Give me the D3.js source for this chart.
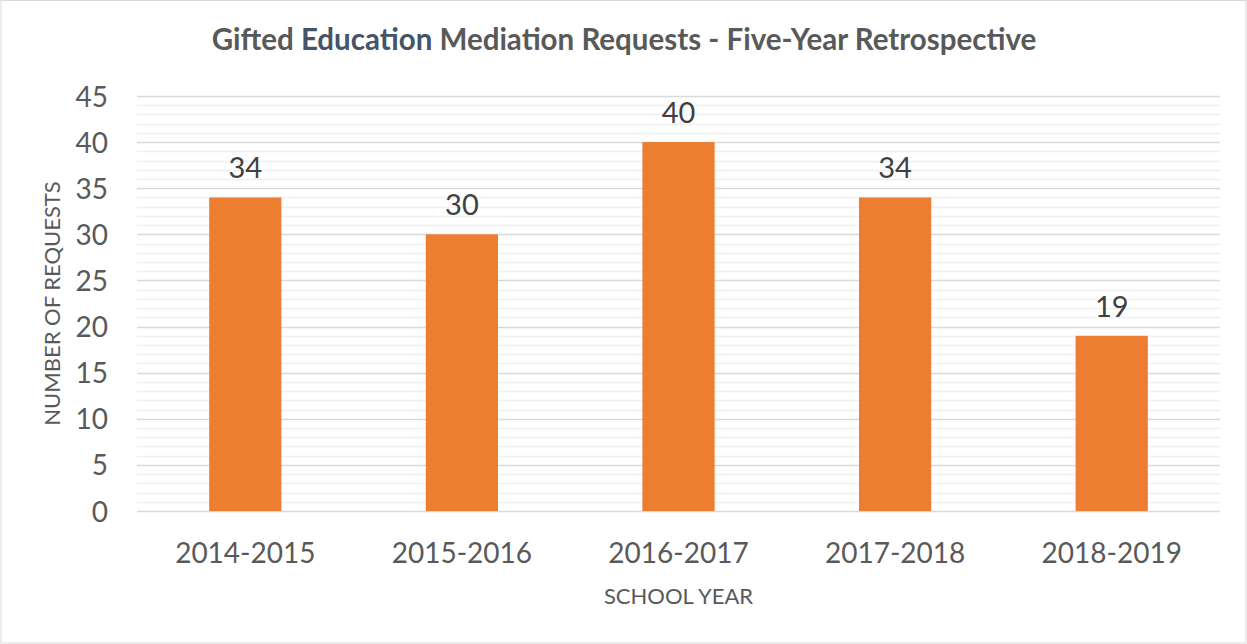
<!DOCTYPE html>
<html>
<head>
<meta charset="utf-8">
<script src="https://cdn.jsdelivr.net/npm/d3@7"></script>
<style>
  body { margin: 0; background: #fff; }
  text { font-family: Lato, "Open Sans", sans-serif; }
</style>
</head>
<body>
<script>
// chart values
var years = ["2014-2015", "2015-2016", "2016-2017", "2017-2018", "2018-2019"];
var requests = [34, 30, 40, 34, 19];
var yTicks = [0, 5, 10, 15, 20, 25, 30, 35, 40, 45];

var W = 1247, H = 644;
var m = {left: 137, right: 27, top: 96, bottom: 133};

var svg = d3.select("body").append("svg")
    .attr("width", W)
    .attr("height", H);

svg.append("rect")
    .attr("x", 1).attr("y", 0.5)
    .attr("width", W - 2).attr("height", H - 1.5)
    .attr("fill", "#fff")
    .attr("stroke", "#d9d9d9");

var x = d3.scaleBand()
    .domain(years)
    .range([m.left, W - m.right])
    .paddingInner(2 / 3)
    .paddingOuter(1 / 3);

var y = d3.scaleLinear()
    .domain([0, 45])
    .range([H - m.bottom, m.top]);

// minor gridlines (every 1)
svg.append("g").selectAll("line")
    .data(d3.range(0, 46).filter(function(v){ return v % 5 != 0; }))
    .enter().append("line")
    .attr("x1", m.left).attr("x2", W - m.right)
    .attr("y1", function(d){ return Math.round(y(d)) + 0.5; })
    .attr("y2", function(d){ return Math.round(y(d)) + 0.5; })
    .attr("stroke", "#f0f0f0")
    .attr("stroke-width", 1.5);

// major gridlines
svg.append("g").selectAll("line")
    .data(yTicks)
    .enter().append("line")
    .attr("x1", m.left).attr("x2", W - m.right)
    .attr("y1", function(d){ return Math.round(y(d)) + 0.5; })
    .attr("y2", function(d){ return Math.round(y(d)) + 0.5; })
    .attr("stroke", "#d9d9d9")
    .attr("stroke-width", 1.5);

// y axis labels
var yAxis = svg.append("g")
    .attr("transform", "translate(" + (m.left - 29) + ",0)")
    .call(d3.axisLeft(y).tickValues(yTicks).tickSize(0).tickPadding(0));
yAxis.select(".domain").remove();
yAxis.selectAll("text")
    .attr("fill", "#595959")
    .attr("font-size", 28)
    .attr("dy", "0.36em");

// x axis labels
var xAxis = svg.append("g")
    .attr("transform", "translate(0," + (H - m.bottom) + ")")
    .call(d3.axisBottom(x).tickSize(0).tickPadding(32));
xAxis.select(".domain").remove();
xAxis.selectAll("text")
    .attr("fill", "#595959")
    .attr("font-size", 28);

// bars
svg.append("g").selectAll("rect")
    .data(requests)
    .enter().append("rect")
    .attr("x", function(d, i){ return x(years[i]); })
    .attr("y", function(d){ return y(d); })
    .attr("width", x.bandwidth())
    .attr("height", function(d){ return y(0) - y(d); })
    .attr("fill", "#ed7d31");

// value labels
svg.append("g").selectAll("text")
    .data(requests)
    .enter().append("text")
    .attr("x", function(d, i){ return x(years[i]) + x.bandwidth() / 2; })
    .attr("y", function(d){ return y(d) - 19; })
    .attr("text-anchor", "middle")
    .attr("fill", "#404040")
    .attr("font-size", 29)
    .text(function(d){ return d; });

// title
var title = svg.append("text")
    .attr("x", 624).attr("y", 50)
    .attr("text-anchor", "middle")
    .attr("font-size", 29.5)
    .attr("font-weight", "bold")
    .attr("fill", "#595959");
title.append("tspan").text("Gifted ");
title.append("tspan").attr("fill", "#44546a").text("Education");
title.append("tspan").text(" Mediation Requests - Five-Year Retrospective");

// axis titles
svg.append("text")
    .attr("x", (m.left + W - m.right) / 2)
    .attr("y", 604)
    .attr("text-anchor", "middle")
    .attr("font-size", 22)
    .attr("fill", "#595959")
    .text("SCHOOL YEAR");

svg.append("text")
    .attr("transform", "translate(60," + ((m.top + H - m.bottom) / 2) + ") rotate(-90)")
    .attr("text-anchor", "middle")
    .attr("font-size", 22)
    .attr("fill", "#595959")
    .text("NUMBER OF REQUESTS");
</script>
</body>
</html>
